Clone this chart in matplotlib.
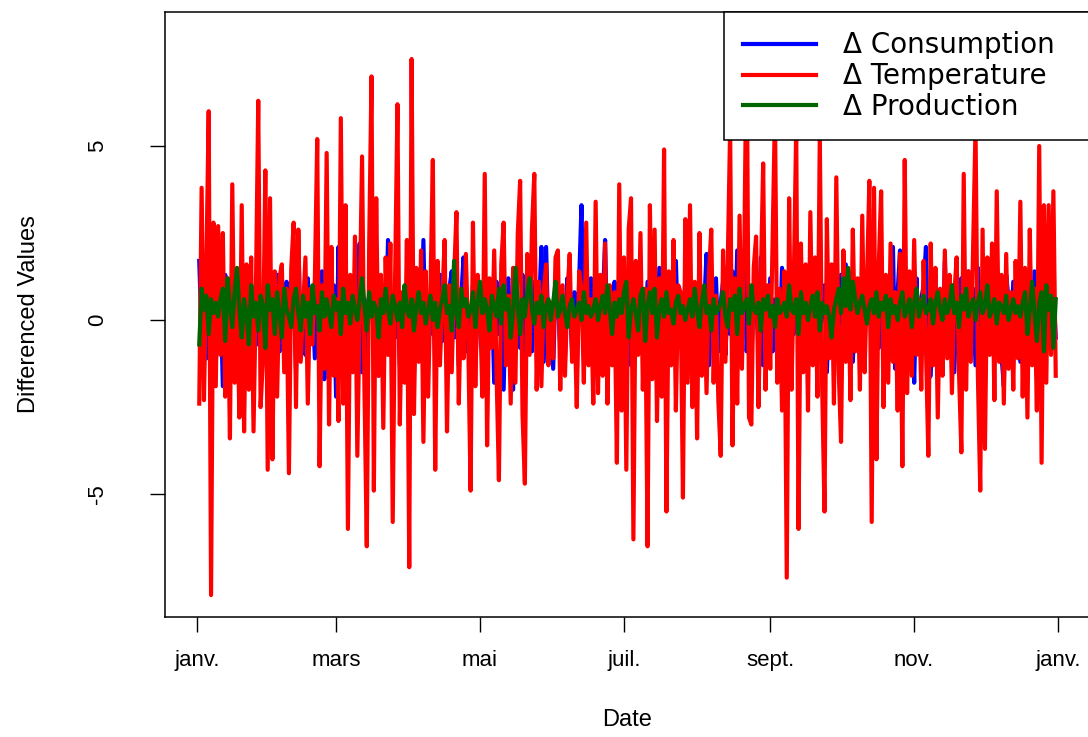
import numpy as np
import pandas as pd
import matplotlib
matplotlib.use("Agg")
import matplotlib.pyplot as plt
import matplotlib.dates as mdates

# daily differenced series, 2 Jan -> 31 Dec
start = "2021-01-02"

d_temp = [
    -2.4, 3.8, -2.3, 1.5, 6.0, -7.9, 2.8, -1.9, 2.7, -1.0,
    2.5, -2.2, 1.2, -3.4, 3.9, -1.8, 0.9, -2.8, 3.3, -3.2,
    1.6, -2.0, 1.8, -3.2, 0.8, 6.3, -2.5, -1.1, 4.3, -4.3,
    3.5, -4.0, 1.4, -2.2, 1.2, 1.6, -1.5, 0.9, -4.4, 1.5,
    2.8, -2.5, 2.6, -1.2, 0.3, 1.8, -2.4, 0.9, -0.7, 1.2,
    5.2, -4.2, 1.0, -1.4, 4.8, -3.0, 2.1, -1.6, 0.6, -2.9,
    5.8, -2.4, 3.3, -6.0, 1.3, -1.5, 2.4, -3.9, 0.5, 4.7,
    -1.9, -6.5, 2.1, 7.0, -4.9, 3.5, -1.6, 1.3, -3.1, 1.8,
    -1.0, 2.2, -5.8, 1.2, 6.2, -3.0, 0.8, -1.8, 2.3, -7.1,
    7.5, -2.7, 1.5, -1.2, 2.0, -3.5, 1.4, -2.2, 0.9, 4.6,
    -4.3, 1.7, -1.3, 0.6, 2.3, -3.2, 1.0, -1.5, 1.2, 3.1,
    -2.4, 0.8, -1.1, 1.9, -0.6, -4.9, 2.8, -1.9, 1.3, 0.4,
    -2.2, 4.2, -3.6, 1.2, -0.8, 2.0, -1.5, -4.6, 1.6, 2.8,
    -1.3, 0.7, -2.4, 1.5, -1.8, 2.5, 4.0, -2.7, -4.7, 1.9,
    -1.0, 2.6, 4.2, -2.0, 1.1, -1.9, 0.8, 1.6, -1.3, 0.5,
    -1.1, 1.8, 2.0, -2.0, 1.0, -1.6, 0.7, 1.9, -1.2, 0.3,
    -2.5, 1.4, 0.9, -1.8, 2.8, -1.3, 0.6, -2.4, 3.4, -2.1,
    1.3, -1.6, 2.2, -2.4, 1.0, -1.3, 0.8, -4.1, 3.9, -2.6,
    1.8, -4.3, 2.6, 3.5, -6.3, 1.7, -1.0, 2.5, -2.0, 0.9,
    -6.5, 3.3, -1.7, 2.6, -2.9, 1.2, -2.2, 4.9, -5.5, 1.4,
    -1.3, 2.3, -2.6, 1.0, 0.8, -5.1, 2.9, -1.8, 3.3, -2.5,
    1.1, -3.4, 2.5, -1.6, 0.9, -2.1, 1.3, 2.6, -1.8, 0.7,
    -2.3, -3.9, 2.0, -1.2, 1.7, 5.5, -3.6, 1.2, -2.4, 3.0,
    -1.4, 2.0, 8.2, -2.8, -3.0, 1.5, 2.4, -2.5, 1.1, 4.5,
    -2.0, 1.0, -1.4, 2.3, 6.0, -1.8, 0.9, -2.6, 1.4, -7.4,
    3.5, -2.0, 1.2, 5.5, -6.0, 2.2, -1.5, 1.6, -2.6, 3.1,
    -1.3, 1.8, -2.2, 5.3, -1.9, -5.5, 2.9, -1.1, 1.6, -2.4,
    4.1, -1.4, -3.5, 2.0, -1.2, 1.4, -2.3, 2.6, -0.9, 1.2,
    -2.0, 3.0, -1.5, 1.1, 4.0, -5.8, 3.8, -4.0, 1.6, 3.7,
    -2.5, 1.3, -1.8, 2.2, -1.2, 0.8, -2.6, 1.9, -4.2, 4.6,
    -2.1, 1.4, -1.6, 2.3, -1.0, 0.6, -2.0, 1.7, -0.8, -3.9,
    2.2, -1.3, 1.5, -2.8, 0.9, -1.6, 2.0, -1.1, 1.3, -2.1,
    0.7, 1.8, -1.5, -3.8, 4.2, -2.0, 1.4, -1.2, 2.1, 5.5,
    -1.6, -4.9, 2.6, -3.7, 1.8, -1.0, 2.2, -2.3, 3.7, -1.2,
    1.3, -2.4, 1.9, -1.4, 0.8, -2.0, 1.7, -1.1, 3.4, -2.2,
    1.5, -2.8, 2.6, -1.3, 0.9, -2.6, 5.0, -4.1, 3.3, -1.8,
    3.3, -1.0, 3.7, -1.6,
]

d_cons = [
    1.7, -0.4, 0.9, -1.1, 0.6, -0.8, 1.4, -1.3, 0.5, 0.8,
    -1.9, 1.3, -0.6, 0.4, 1.1, -0.9, 0.3, -1.8, 0.7, 1.2,
    -0.5, 0.9, -1.2, 0.6, 1.0, -0.7, 0.4, -1.1, 1.5, -0.6,
    0.8, -1.0, 0.5, 1.3, -0.9, 0.2, -0.6, 1.1, -1.2, 0.7,
    0.9, -1.4, 2.3, -0.8, 0.5, -1.0, 1.2, -0.3, 0.6, -1.1,
    0.8, -0.5, 1.4, -1.7, 0.4, 0.9, -0.8, 1.0, -2.2, 2.1,
    -0.6, 0.7, -1.3, 0.5, 1.1, -0.9, 0.3, 1.0, 2.2, -1.5,
    0.6, -1.1, 0.8, 1.2, -0.7, 0.4, -1.6, 1.1, 0.5, -0.9,
    2.3, -1.0, 0.7, -0.5, 1.0, -1.3, 0.6, 0.9, -0.8, 0.3,
    1.2, -1.5, 0.8, 0.4, -0.9, 2.3, -1.1, 0.6, -0.4, 1.0,
    -1.2, 0.7, 1.3, -0.6, 0.2, -1.0, 0.9, 1.4, -0.5, 0.7,
    -1.3, 0.6, 1.8, -0.9, 0.4, -0.7, 1.0, -1.4, 0.5, 0.8,
    -0.6, 1.5, -1.0, 0.3, 0.9, -1.8, 1.1, -0.4, 0.6, -2.0,
    0.9, 1.2, -0.7, -2.0, 1.0, 0.4, -0.8, 1.3, -1.5, 0.6,
    0.8, -0.9, 1.1, -0.5, 0.3, 2.1, -1.2, 2.1, -0.6, 0.5,
    -1.4, 1.0, 0.7, -0.8, 0.4, -1.1, 1.2, 0.6, -0.9, 0.8,
    -1.6, 1.1, 3.3, -1.0, 0.5, -0.7, 1.2, -1.3, 0.6, 0.9,
    -0.8, 0.4, 2.3, -1.0, 0.7, -0.6, 1.1, -1.2, 0.5, 0.3,
    -0.9, 1.0, 0.6, -1.3, 0.8, -0.4, 1.2, -0.9, 0.5, -0.7,
    1.1, -1.0, 0.7, 0.4, -0.8, 1.5, -1.1, 0.6, -0.5, 0.9,
    -1.2, 0.8, 1.7, -0.6, 0.3, -1.0, 1.3, -0.7, 0.5, 0.9,
    -1.1, 0.6, 1.0, -0.8, 0.4, 1.9, -1.3, 0.7, -0.5, 1.2,
    -0.9, 0.5, 1.1, -1.0, 0.6, -0.4, 1.4, -0.8, 2.0, -1.1,
    0.7, 1.6, -0.9, 0.5, -1.2, 1.0, 0.4, -0.7, 1.8, -1.3,
    0.8, -0.5, 1.2, -0.9, 0.6, 0.3, -1.0, 1.5, -0.6, 0.9,
    -0.8, 1.1, -0.4, 0.7, 2.0, -1.2, 0.6, -0.9, 1.3, -0.5,
    0.8, -1.1, 1.2, -0.6, 0.4, 1.0, -1.5, 0.7, 1.1, -0.8,
    0.5, -1.0, 1.3, -0.7, 1.6, -0.4, 0.9, -1.2, 0.6, 0.8,
    -0.9, 1.2, -0.5, 0.7, 1.0, -1.1, 0.4, 0.9, -0.8, 1.4,
    -1.0, 0.6, 1.1, -0.7, 2.1, -1.4, 0.8, 2.0, -0.6, 0.5,
    -1.1, 0.9, 0.4, -1.8, 1.2, -0.8, 0.6, 1.0, 2.1, -1.7,
    -1.6, 0.8, 1.3, -0.9, 0.5, -1.2, 1.7, -0.6, 0.4, 1.0,
    -1.5, 0.7, -0.8, 1.2, 0.6, -1.0, 1.4, -0.7, 0.9, -1.3,
    1.5, -0.6, 0.8, -1.1, 1.2, 0.4, -0.9, 1.0, -0.5, 0.7,
    -1.0, -1.9, 1.3, 0.6, -0.8, 1.1, -0.4, 0.9, -1.2, 0.5,
    1.0, -0.7, 0.6, -1.1, 1.4, -0.6, 0.8, 0.3, -0.9, 1.2,
    -0.7, 1.1, 0.9, -0.5,
]

d_prod = [
    -0.7, 0.9, 0.3, 0.7, -0.4, 0.6, 0.2, 0.5, 0.1, 0.6,
    0.9, -0.6, 1.2, 0.4, -0.2, 0.8, 1.5, 0.3, -0.5, 0.6,
    0.2, -0.7, 1.0, 0.1, 0.5, -0.3, 0.7, 0.4, -0.8, 1.0,
    0.3, 0.6, -0.4, 0.8, 0.2, -0.5, 0.9, 0.3, 0.1, -0.2,
    0.6, 0.9, 0.2, -0.3, 0.7, 0.1, 0.5, -0.4, 1.0, 0.2,
    0.4, -0.3, 0.8, 0.1, 0.6, 0.2, -0.2, 0.7, 0.3, 0.5,
    -0.4, 0.9, 0.2, 0.5, -0.1, 0.7, 0.3, 0.0, 0.6, 1.2,
    0.4, -0.3, 0.8, 0.1, 0.5, 0.3, -0.5, 0.6, 0.2, 0.9,
    0.3, -0.1, 0.7, 0.4, 0.0, 0.5, -0.2, 1.0, 0.3, 0.1,
    0.6, -0.3, 0.4, 0.8, 0.2, 0.5, -0.1, 0.3, 0.7, 0.0,
    0.5, -0.2, 0.3, 0.6, 1.0, 0.2, 0.4, -0.3, 1.7, 0.2,
    -0.2, 0.9, 0.4, 0.6, 0.1, 0.3, 0.8, -0.2, 0.5, 1.1,
    0.2, 0.6, 0.3, -0.3, 0.7, 0.4, 0.1, 0.9, -0.1, 1.0,
    0.3, 0.6, -0.5, 0.2, 1.5, 0.4, -0.4, 0.6, 0.1, 0.8,
    1.2, 0.3, -0.1, 0.5, 0.2, 0.7, -0.2, 0.4, 0.6, 0.0,
    0.5, 1.1, 0.1, 0.3, 0.7, 0.2, -0.2, 0.4, 0.6, 0.1,
    0.3, 0.5, 0.0, 0.8, 0.2, 0.4, 0.1, 0.3, 0.6, 0.0,
    0.4, 0.7, 0.2, 1.0, 0.3, -0.4, 0.5, 0.1, 0.6, 0.2,
    0.8, 1.1, -0.5, 0.3, 0.6, 0.2, -0.3, 0.7, 0.9, -0.6,
    0.4, 0.8, 0.2, 0.9, -0.5, 0.3, 0.6, 0.1, 0.8, 0.2,
    0.3, -0.1, 0.5, 0.7, 0.2, 0.4, 0.0, 0.3, 0.6, 0.1,
    0.9, 0.3, -0.2, 0.5, 1.0, 0.2, 0.4, -0.3, 0.6, 0.2,
    0.3, 0.5, 0.8, 0.1, -0.2, 0.6, 0.3, 0.7, -0.4, 0.9,
    0.2, 0.4, 0.6, -0.1, 1.0, 0.3, 0.2, 0.5, -0.3, 0.6,
    0.3, 0.7, 0.1, 0.4, -0.2, 0.6, 0.2, 0.3, 0.5, 0.1,
    1.0, 0.3, 0.2, 0.6, -0.4, 0.8, 0.2, 0.5, 0.0, 0.4,
    0.7, 0.1, 0.8, -0.3, 0.5, 0.2, 0.4, 0.1, -0.5, 0.3,
    0.6, 0.9, 0.2, 1.2, 0.4, 1.5, 0.3, 1.1, 0.6, 0.2,
    0.5, 0.7, 0.3, -0.1, 0.4, 0.6, 0.2, 0.8, 0.1, 0.5,
    0.3, 0.7, -0.2, 0.6, 0.2, 0.4, 0.0, 0.5, 0.8, 0.1,
    0.3, 0.6, -0.2, 0.5, 0.9, 0.1, 0.4, 0.7, 0.2, 0.3,
    0.6, -0.1, 0.5, 0.8, 0.3, 0.0, 0.6, 0.2, 0.4, 1.0,
    0.2, 0.5, -0.2, 0.7, 0.3, 0.9, 0.1, 0.4, 0.6, 0.0,
    0.5, 0.8, 0.2, 0.4, 1.0, 0.1, 0.3, 0.6, -0.1, 0.5,
    0.4, 0.2, 0.7, 0.0, 0.3, 0.6, 0.2, 0.4, 0.1, 0.5,
    0.8, -0.4, 0.3, 1.1, 0.2, -0.6, 0.5, 0.8, -0.9, 1.0,
    0.3, 0.7, -0.8, 0.6,
]

assert len(d_temp) == len(d_cons) == len(d_prod), (len(d_temp), len(d_cons), len(d_prod))
dates = pd.date_range(start, periods=len(d_temp), freq="D")

tick_dates = pd.to_datetime(["2021-01-01", "2021-03-01", "2021-05-01", "2021-07-01",
                             "2021-09-01", "2021-11-01", "2022-01-01"])
tick_labels = ["janv.", "mars", "mai", "juil.", "sept.", "nov.", "janv."]

plt.rcParams["font.family"] = ["Liberation Sans", "DejaVu Sans"]

W, H = 1088, 737
fig = plt.figure(figsize=(W / 100, H / 100), dpi=100)
ax = fig.add_axes([165 / W, 1 - 617 / H, (1090 - 165) / W, (617 - 12) / H])

lw = 3.0
ax.plot(dates, d_cons, color="#0000FF", lw=lw, label="Δ Consumption")
ax.plot(dates, d_temp, color="#FF0000", lw=lw, label="Δ Temperature")
ax.plot(dates, d_prod, color="#006400", lw=lw, label="Δ Production")

# R style 4% padding on x
x0 = mdates.date2num(dates[0])
x1 = mdates.date2num(dates[-1])
pad = 0.04 * (x1 - x0)
ax.set_xlim(x0 - pad, x1 + pad)
ax.set_ylim(-8.53, 8.85)

ax.set_xticks(tick_dates)
ax.set_xticklabels(tick_labels)
ax.set_yticks([-5, 0, 5])
ax.set_yticklabels(["-5", "0", "5"], rotation=90, va="center")

ax.tick_params(axis="x", direction="out", length=11, width=1, pad=13, labelsize=16)
ax.tick_params(axis="y", direction="out", length=11, width=1, pad=30, labelsize=16)

for s in ax.spines.values():
    s.set_linewidth(1.1)

ax.set_xlabel("Date", fontsize=17)
ax.xaxis.set_label_coords(0.4995, -0.152)
ax.set_ylabel("Differenced Values", fontsize=17)
ax.yaxis.set_label_coords(-0.135, 0.5)

leg = ax.legend(loc="upper left", bbox_to_anchor=(0.6043, 0.795, 0.3957, 0.205),
                mode="expand", borderaxespad=0,
                fancybox=False, framealpha=1, edgecolor="black",
                prop={"family": "DejaVu Sans", "size": 20},
                handlelength=2.6, handletextpad=1.0, labelspacing=0.1,
                borderpad=0.7)
leg.get_frame().set_linewidth(1.1)
leg.set_zorder(10)

fig.savefig("out.png", dpi=100)
